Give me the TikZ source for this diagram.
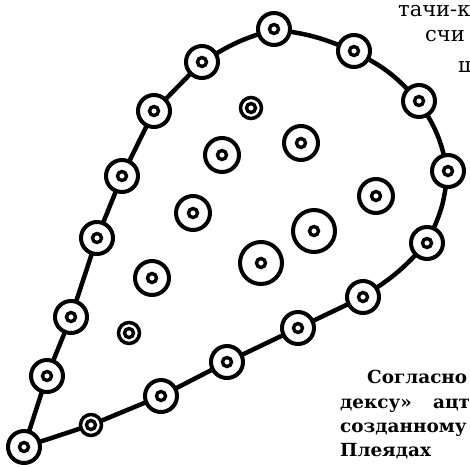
\documentclass[tikz,border=0pt]{standalone}
\usepackage{fontspec}
\usepackage{graphicx}
\setmainfont{DejaVu Serif}
\newlength{\sogwidth}
\newcommand{\botfont}{\bfseries\fontsize{18}{22}\selectfont}
\newcommand{\widebold}[1]{\scalebox{\bscale}[1]{#1}}
\begin{document}
\settowidth{\sogwidth}{\botfont Согласно}%
\pgfmathsetmacro{\bscale}{100/\sogwidth}%
\begin{tikzpicture}[x=1pt,y=-1pt,
  ring/.style={circle,draw,fill=white,line width=4pt,inner sep=0pt,outer sep=0pt,minimum size=32pt,
    path picture={\draw[line width=3.4pt] (path picture bounding box.center) circle (4.5pt);}},
  bigring/.style={ring,minimum size=42pt},
  midring/.style={ring,minimum size=34pt},
  smallring/.style={ring,line width=3.5pt,minimum size=21pt},
  link/.style={line width=4.5pt},
  toptext/.style={anchor=base west,inner sep=0pt,font=\fontsize{21}{25}\selectfont},
  bottext/.style={anchor=base west,inner sep=0pt,font=\botfont}]
\useasboundingbox (0,0) rectangle (470,466);
\clip (0,0) rectangle (470,466);
% text fragments
\node[toptext] (t1) at (398,16) {тачи-к};
\node[toptext] (t2) at (425,41) {счи};
\node[toptext] (t3) at (458,72) {ш};
\node[bottext] (b1) at (367,383) {\widebold{Согласно}};
\node[bottext] (b2) at (340,408) {\widebold{дексу»}};
\node[bottext] (b3) at (433,408) {\widebold{ацт}};
\node[bottext] (b4) at (340,432) {\widebold{созданному}};
\node[bottext] (b5) at (340,456) {\widebold{Плеядах}};
% boundary circles
\node[ring] (p1) at (24,447) {};
\node[ring] (p2) at (47,376) {};
\node[ring] (p3) at (71,317) {};
\node[ring] (p4) at (97,238) {};
\node[ring] (p5) at (122,176) {};
\node[ring] (p6) at (154,111) {};
\node[ring] (p7) at (202,62) {};
\node[ring] (p8) at (274,29) {};
\node[ring] (p9) at (354,51) {};
\node[ring] (p10) at (419,101) {};
\node[ring] (p11) at (448,171) {};
\node[ring] (p12) at (427,243) {};
\node[ring] (p13) at (363,297) {};
\node[ring] (p14) at (298,328) {};
\node[ring] (p15) at (227,362) {};
\node[ring] (p16) at (161,396) {};
\node[smallring] (p17) at (91,425) {};
% interior circles
\node[smallring] (c1) at (251,108) {};
\node[midring] (c2) at (301,143) {};
\node[midring] (c3) at (222,155) {};
\node[midring] (c4) at (376,196) {};
\node[midring] (c5) at (193,213) {};
\node[bigring] (c6) at (314,231) {};
\node[bigring] (c7) at (261,263) {};
\node[midring] (c8) at (152,278) {};
\node[smallring] (c9) at (129,333) {};
% connectors
\draw[link] (p1) -- (p2);
\draw[link] (p2) -- (p3);
\draw[link] (p3) -- (p4);
\draw[link] (p4) -- (p5);
\draw[link] (p5) -- (p6);
\draw[link] (p6) -- (p7);
\draw[link] (p7) to[bend left=6] (p8);
\draw[link] (p8) to[bend left=6] (p9);
\draw[link] (p9) to[bend left=8] (p10);
\draw[link] (p10) to[bend left=8] (p11);
\draw[link] (p11) to[bend left=8] (p12);
\draw[link] (p12) to[bend left=6] (p13);
\draw[link] (p13) -- (p14);
\draw[link] (p14) -- (p15);
\draw[link] (p15) -- (p16);
\draw[link] (p16) -- (p17);
\draw[link] (p17) -- (p1);
\end{tikzpicture}
\end{document}
